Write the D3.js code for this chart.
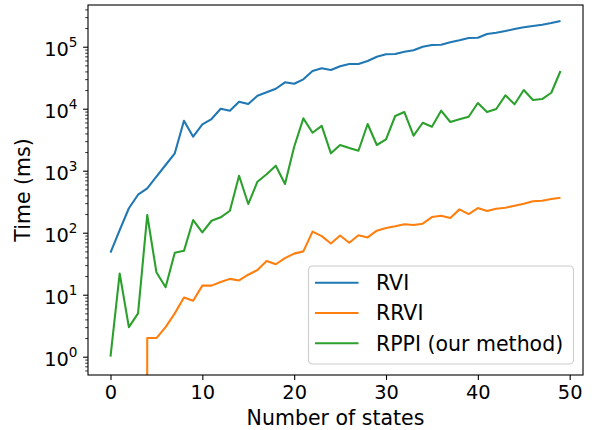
<!DOCTYPE html>
<html>
<head>
<meta charset="utf-8">
<script src="https://cdn.jsdelivr.net/npm/d3@7"></script>
<style>
  body { margin: 0; background: #fff; }
  text { font-family: "DejaVu Sans", sans-serif; fill: #000; }
</style>
</head>
<body>
<div id="chart"></div>
<script>
/* data */
const states = [0, 1, 2, 3, 4, 5, 6, 7, 8, 9, 10, 11, 12, 13, 14, 15, 16, 17, 18, 19,
  20, 21, 22, 23, 24, 25, 26, 27, 28, 29, 30, 31, 32, 33, 34, 35, 36, 37, 38, 39,
  40, 41, 42, 43, 44, 45, 46, 47, 48, 49];

const rvi = [47.6, 110, 248, 410, 520, 800, 1236, 1909, 6400, 3535, 5600, 6820, 10000, 9290,
  12970, 11900, 16200, 18400, 21000, 26700, 25300, 29800, 40500, 44800, 42100, 48300,
  52600, 52600, 58800, 69000, 75400, 76200, 83000, 87500, 100000, 106500, 107700, 117800,
  126800, 138000, 139700, 160300, 168200, 179200, 193000, 205600, 215800, 226400, 241000, 260000];

const rrvi = [0, 0, 0, 0, 2, 2, 3, 5, 9, 8, 14, 14, 16, 18, 17, 21, 25, 35, 31, 39, 46, 50,
  104, 88, 67, 90, 69, 91, 84, 108, 119, 127, 137, 133, 140, 179, 188, 173, 238, 200, 250,
  224, 244, 253, 272, 294, 321, 328, 350, 367];

const rppi = [1, 22, 3, 5, 193, 23, 13.2, 47.6, 51, 160, 101, 156, 177, 226, 830, 290, 665,
  875, 1205, 610, 2440, 7000, 4100, 5300, 1909, 2600, 2323, 2100, 5665, 2600, 3210, 7630,
  8850, 3670, 5940, 5130, 9290, 6100, 6750, 7430, 12360, 8850, 9890, 16450, 11780, 20000,
  13800, 14330, 18100, 40560];

const seriesNames = ["RVI", "RRVI", "RPPI (our method)"];
const seriesColors = ["#1f77b4", "#ff7f0e", "#2ca02c"];
const xTicks = [0, 10, 20, 30, 40, 50];

/* svg setup */
const width = 592, height = 430;
const margin = { top: 5, right: 9, bottom: 55, left: 88 };
const plotW = width - margin.left - margin.right;
const plotH = height - margin.top - margin.bottom;

const svg = d3.select("#chart")
  .append("svg")
  .attr("width", width)
  .attr("height", height);

const g = svg.append("g")
  .attr("transform", `translate(${margin.left},${margin.top})`);

// matplotlib-like auto limits
const x = d3.scaleLinear().domain([-2.45, 51.45]).range([0, plotW]);
const y = d3.scaleLog().domain([Math.pow(10, -0.295), Math.pow(10, 5.673)]).range([plotH, 0]);

g.append("clipPath").attr("id", "plotclip")
  .append("rect").attr("width", plotW).attr("height", plotH);

// zero values go far below the axis, like matplotlib's clip
const yv = v => v > 0 ? y(v) : y(1e-300);

const line = d3.line()
  .x((d, i) => x(states[i]))
  .y(d => yv(d));

[rvi, rrvi, rppi].forEach((s, k) => {
  g.append("path")
    .datum(s)
    .attr("clip-path", "url(#plotclip)")
    .attr("fill", "none")
    .attr("stroke", seriesColors[k])
    .attr("stroke-width", 2.08)
    .attr("stroke-linejoin", "round")
    .attr("d", line);
});

/*
 * X Axis
 */
const xAxis = g.append("g")
  .attr("transform", `translate(0,${plotH})`)
  .call(d3.axisBottom(x).tickValues(xTicks).tickSize(4.9).tickPadding(5.5).tickSizeOuter(0));
xAxis.select(".domain").remove();
xAxis.selectAll("line").attr("stroke", "#000").attr("stroke-width", 1.1);
xAxis.selectAll("text").attr("font-size", "19.4px").attr("font-family", "DejaVu Sans").attr("fill", "#000");

/*
 * Y Axis (log, with minor ticks)
 */
const allY = y.ticks();
const isMajor = v => Math.abs(Math.log10(v) - Math.round(Math.log10(v))) < 1e-9;
const majorY = allY.filter(isMajor);
const minorY = allY.filter(v => !isMajor(v));

const yMinor = g.append("g")
  .call(d3.axisLeft(y).tickValues(minorY).tickSize(2.8).tickFormat("").tickSizeOuter(0));
yMinor.select(".domain").remove();
yMinor.selectAll("line").attr("stroke", "#000").attr("stroke-width", 0.8);

const yMajor = g.append("g")
  .call(d3.axisLeft(y).tickValues(majorY).tickSize(4.9).tickFormat("").tickSizeOuter(0));
yMajor.select(".domain").remove();
yMajor.selectAll("line").attr("stroke", "#000").attr("stroke-width", 1.1);

const yLab = yMajor.selectAll(".tick")
  .append("text")
  .attr("x", -10.5)
  .attr("y", 8.3)
  .attr("text-anchor", "end")
  .attr("font-size", "19.4px")
  .attr("font-family", "DejaVu Sans")
  .attr("fill", "#000");
yLab.append("tspan").text("10");
yLab.append("tspan")
  .attr("font-size", "13.6px")
  .attr("dy", -8.3)
  .text(d => Math.round(Math.log10(d)));

// frame
g.append("rect")
  .attr("width", plotW)
  .attr("height", plotH)
  .attr("fill", "none")
  .attr("stroke", "#000")
  .attr("stroke-width", 1.1);

// axis labels
svg.append("text")
  .attr("x", margin.left + plotW / 2)
  .attr("y", 425)
  .attr("text-anchor", "middle")
  .attr("font-size", "20.5px")
  .text("Number of states");

svg.append("text")
  .attr("transform", `translate(30,${margin.top + plotH / 2}) rotate(-90)`)
  .attr("text-anchor", "middle")
  .attr("font-size", "20.5px")
  .text("Time (ms)");

/* legend */
const legend = svg.append("g").attr("transform", "translate(308.5,266)");
legend.append("rect")
  .attr("width", 265)
  .attr("height", 98)
  .attr("rx", 4)
  .attr("fill", "#fff")
  .attr("fill-opacity", 0.8)
  .attr("stroke", "#cccccc")
  .attr("stroke-width", 1.1);

seriesNames.forEach((name, k) => {
  const ly = 16.7 + k * 30.3;
  legend.append("line")
    .attr("x1", 6.5).attr("x2", 50)
    .attr("y1", ly).attr("y2", ly)
    .attr("stroke", seriesColors[k])
    .attr("stroke-width", 2.08);
  legend.append("text")
    .attr("x", 67.5)
    .attr("y", ly)
    .attr("dy", "0.36em")
    .attr("font-size", "20.5px")
    .text(name);
});
</script>
</body>
</html>
